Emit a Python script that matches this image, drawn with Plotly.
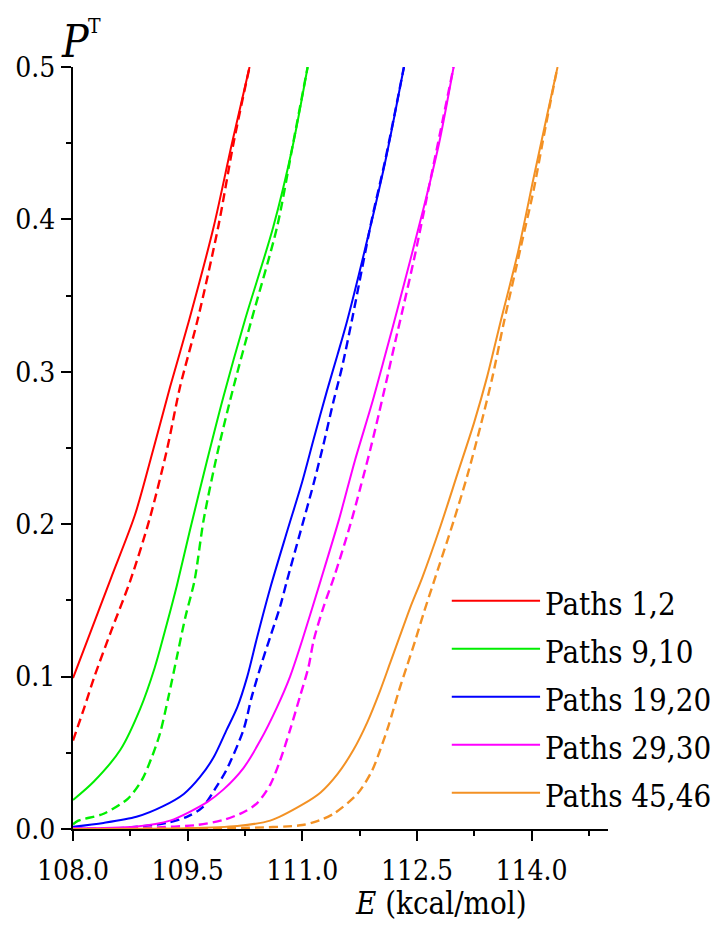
import plotly.graph_objects as go

# ---------------- data ----------------
names = ["Paths 1,2", "Paths 9,10", "Paths 19,20", "Paths 29,30", "Paths 45,46"]
colors = ["#FF0000", "#00EE00", "#0000FF", "#FF00FF", "#F39124"]

red_solid_E = [108.0, 108.25, 108.5, 108.81, 109.05, 109.27, 109.52, 109.84, 110.08, 110.31]
red_solid_P = [0.099, 0.132, 0.165, 0.206, 0.249, 0.29, 0.334, 0.395, 0.45, 0.5]
red_dash_E = [108.0, 108.15, 108.28, 108.5, 108.75, 109.0, 109.23, 109.4, 109.63, 109.9, 110.1, 110.31]
red_dash_P = [0.058, 0.08, 0.1, 0.13, 0.163, 0.203, 0.249, 0.29, 0.334, 0.395, 0.45, 0.5]

green_solid_E = [108.0, 108.27, 108.62, 108.88, 109.07, 109.23, 109.36, 109.53, 109.75, 109.97, 110.25, 110.62, 110.87, 111.07]
green_solid_P = [0.019, 0.031, 0.052, 0.079, 0.106, 0.135, 0.16, 0.196, 0.241, 0.284, 0.334, 0.395, 0.447, 0.5]
green_dash_E = [108.0, 108.07, 108.4, 108.72, 108.9, 109.03, 109.14, 109.25, 109.36, 109.47, 109.59, 109.71, 109.9, 110.1, 110.33, 110.67, 110.88, 111.07]
green_dash_P = [0.003, 0.0055, 0.01, 0.02, 0.032, 0.047, 0.063, 0.087, 0.113, 0.139, 0.163, 0.203, 0.249, 0.29, 0.333, 0.395, 0.45, 0.5]

blue_solid_E = [108.0, 108.4, 108.83, 109.18, 109.45, 109.66, 109.84, 110.01, 110.15, 110.28, 110.41, 110.58, 110.8, 111.0, 111.15, 111.32, 111.46, 111.59, 111.89, 112.09, 112.33]
blue_solid_P = [0.0015, 0.004, 0.008, 0.015, 0.023, 0.034, 0.047, 0.065, 0.08, 0.1, 0.126, 0.158, 0.195, 0.228, 0.256, 0.287, 0.311, 0.334, 0.395, 0.439, 0.5]
blue_dash_E = [108.0, 108.6, 109.23, 109.49, 109.69, 109.88, 110.01, 110.23, 110.34, 110.47, 110.58, 110.71, 110.8, 110.97, 111.15, 111.28, 111.41, 111.52, 111.65, 111.91, 112.09, 112.33]
blue_dash_P = [0.0, 0.0005, 0.004, 0.008, 0.014, 0.028, 0.039, 0.065, 0.087, 0.109, 0.126, 0.146, 0.163, 0.194, 0.227, 0.253, 0.281, 0.303, 0.334, 0.4, 0.44, 0.5]

magenta_solid_E = [108.0, 108.81, 109.27, 109.75, 109.97, 110.23, 110.45, 110.67, 110.84, 111.0, 111.24, 111.48, 111.69, 111.91, 112.09, 112.24, 112.59, 112.79, 112.98]
magenta_solid_P = [0.0005, 0.0015, 0.0055, 0.0175, 0.026, 0.04, 0.058, 0.08, 0.1, 0.124, 0.163, 0.203, 0.242, 0.279, 0.312, 0.34, 0.408, 0.45, 0.5]
magenta_dash_E = [108.0, 108.6, 109.05, 109.62, 109.97, 110.23, 110.41, 110.58, 110.71, 110.84, 110.97, 111.08, 111.15, 111.28, 111.42, 111.63, 111.76, 111.89, 112.0, 112.11, 112.24, 112.31, 112.48, 112.64, 112.8, 112.98]
magenta_dash_P = [0.0, 0.0003, 0.001, 0.0026, 0.006, 0.011, 0.017, 0.029, 0.045, 0.065, 0.087, 0.106, 0.124, 0.146, 0.166, 0.2, 0.224, 0.249, 0.272, 0.296, 0.325, 0.34, 0.378, 0.417, 0.456, 0.5]

orange_solid_E = [108.0, 108.8, 109.49, 110.15, 110.58, 111.0, 111.24, 111.46, 111.67, 111.85, 112.02, 112.15, 112.28, 112.41, 112.57, 112.81, 113.03, 113.25, 113.42, 113.6, 113.82, 114.03, 114.21, 114.34]
orange_solid_P = [0.0, 0.0002, 0.0005, 0.002, 0.0055, 0.016, 0.024, 0.036, 0.052, 0.07, 0.091, 0.109, 0.127, 0.145, 0.165, 0.199, 0.233, 0.267, 0.297, 0.334, 0.378, 0.428, 0.47, 0.5]
orange_dash_E = [108.0, 109.5, 110.3, 111.0, 111.24, 111.41, 111.72, 111.91, 112.02, 112.13, 112.26, 112.37, 112.48, 112.59, 112.72, 112.98, 113.16, 113.33, 113.49, 113.64, 113.86, 114.03, 114.18, 114.34]
orange_dash_P = [0.0, 0.0003, 0.0008, 0.0026, 0.006, 0.01, 0.023, 0.038, 0.052, 0.068, 0.09, 0.107, 0.124, 0.142, 0.162, 0.202, 0.232, 0.264, 0.297, 0.333, 0.382, 0.42, 0.46, 0.5]

solid_series = [(red_solid_E, red_solid_P), (green_solid_E, green_solid_P), (blue_solid_E, blue_solid_P),
                (magenta_solid_E, magenta_solid_P), (orange_solid_E, orange_solid_P)]
dash_series = [(red_dash_E, red_dash_P), (green_dash_E, green_dash_P), (blue_dash_E, blue_dash_P),
               (magenta_dash_E, magenta_dash_P), (orange_dash_E, orange_dash_P)]

x_ticks = [108.0, 109.5, 111.0, 112.5, 114.0]
y_ticks = [0.0, 0.1, 0.2, 0.3, 0.4, 0.5]

FONT = "DejaVu Serif Condensed"

fig = go.Figure()
for (E, P), name, c in zip(dash_series, names, colors):
    fig.add_trace(go.Scatter(x=E, y=P, mode="lines", name=name + " (dash)", showlegend=False,
                             line=dict(color=c, width=2.4, dash="9px,5px", shape="spline", smoothing=0.8)))
for (E, P), name, c in zip(solid_series, names, colors):
    fig.add_trace(go.Scatter(x=E, y=P, mode="lines", name=name, showlegend=False,
                             line=dict(color=c, width=2, shape="spline", smoothing=0.8)))

# legend drawn manually (long line samples as in the original)
shapes = []
annotations = []
for i, (name, c) in enumerate(zip(names, colors)):
    yy = 0.2996 - i * 0.0630
    shapes.append(dict(type="line", xref="paper", yref="paper", x0=0.708, x1=0.873, y0=yy, y1=yy,
                       line=dict(color=c, width=2)))
    annotations.append(dict(xref="paper", yref="paper", x=0.878, y=yy, xanchor="left", yanchor="middle",
                            text=name, showarrow=False, yshift=-3,
                            font=dict(family=FONT, size=31, color="black")))

# axis titles
annotations.append(dict(xref="paper", yref="paper", x=-0.026, y=1.034, xanchor="left", yanchor="middle",
                        text="<i>P</i>", showarrow=False,
                        font=dict(family=FONT, size=44, color="black")))
annotations.append(dict(xref="paper", yref="paper", x=0.024, y=1.054, xanchor="left", yanchor="middle",
                        text="T", showarrow=False,
                        font=dict(family=FONT, size=21, color="black")))
annotations.append(dict(xref="paper", yref="paper", x=0.688, y=-0.097, xanchor="center", yanchor="middle",
                        text="<i>E</i> (kcal/mol)", showarrow=False,
                        font=dict(family=FONT, size=31, color="black")))

fig.update_layout(
    width=719, height=928,
    margin=dict(l=65, r=119, t=59, b=107, autoexpand=False),
    paper_bgcolor="white", plot_bgcolor="white",
    showlegend=False,
    shapes=shapes, annotations=annotations,
    font=dict(family=FONT, size=28, color="black"),
)
fig.update_xaxes(
    range=[108, 115], tickmode="array", tickvals=x_ticks, ticktext=[f"{v:.1f}" for v in x_ticks],
    showline=True, linecolor="black", linewidth=2, ticks="outside", ticklen=10, tickwidth=2,
    tickcolor="black", showgrid=False, zeroline=False, automargin=False, ticklabelstandoff=5,
    tickfont=dict(family=FONT, size=28, color="black"),
    minor=dict(ticks="outside", ticklen=5, tickwidth=2, tickcolor="black", tick0=108, dtick=0.75, showgrid=False),
)
fig.update_yaxes(
    range=[0, 0.5], tickmode="array", tickvals=y_ticks, ticktext=[f"{v:.1f}" for v in y_ticks],
    showline=True, linecolor="black", linewidth=2, ticks="outside", ticklen=10, tickwidth=2,
    tickcolor="black", showgrid=False, zeroline=False, automargin=False,
    tickfont=dict(family=FONT, size=28, color="black"),
    minor=dict(ticks="outside", ticklen=5, tickwidth=2, tickcolor="black", tick0=0, dtick=0.05, showgrid=False),
)

fig.write_html("out.html")
